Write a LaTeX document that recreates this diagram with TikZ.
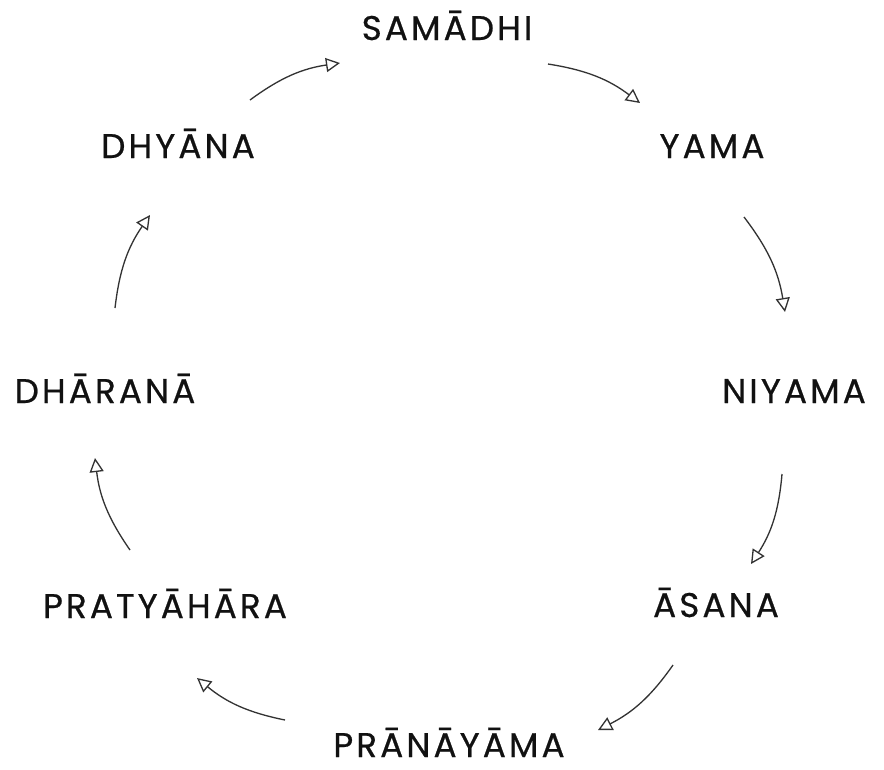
\documentclass[tikz,border=0pt]{standalone}
\usepackage{fontspec}
\setmainfont{Poppins}[LetterSpace=9, FakeBold=0.6]
\usetikzlibrary{arrows.meta}
\definecolor{limbInk}{HTML}{111111}
\definecolor{limbArc}{HTML}{333333}

\begin{document}
\begin{tikzpicture}[x=0.02cm, y=0.02cm,
    limb/.style={anchor=base, text=limbInk, font=\fontsize{19.5}{23}\selectfont},
    flow/.style={limbArc, line width=0.75pt,
      -{Triangle[open, length=8pt, width=8pt]}, bend left=14}]
    \useasboundingbox (0,0) rectangle (884,-769);
    % ---- the eight limbs ----
    \node[limb] (samadhi)    at (447,-40)  {SAMĀDHI};
    \node[limb] (yama)       at (712,-158) {YAMA};
    \node[limb] (niyama)     at (794,-403) {NIYAMA};
    \node[limb] (asana)      at (716,-617) {ĀSANA};
    \node[limb] (pranayama)  at (449,-757) {PRĀNĀYĀMA};
    \node[limb] (pratyahara) at (165,-618) {PRATYĀHĀRA};
    \node[limb] (dharana)    at (105,-403) {DHĀRANĀ};
    \node[limb] (dhyana)     at (178,-158) {DHYĀNA};
    % ---- arc ends, clockwise ----
    \foreach \n/\x/\y in {s1/548/-64, e1/640/-103, s2/744/-217, e2/785/-312,
                          s3/782/-474, e3/751/-564, s4/673/-665, e4/598/-730,
                          s5/285/-720, e5/197/-678, s6/130/-550, e6/95/-458,
                          s7/115/-308, e7/150/-215, s8/250/-100, e8/340/-63}
      \coordinate (\n) at (\x,\y);
    \foreach \i in {1,...,8}
      \draw[flow] (s\i) to (e\i);
\end{tikzpicture}
\end{document}
